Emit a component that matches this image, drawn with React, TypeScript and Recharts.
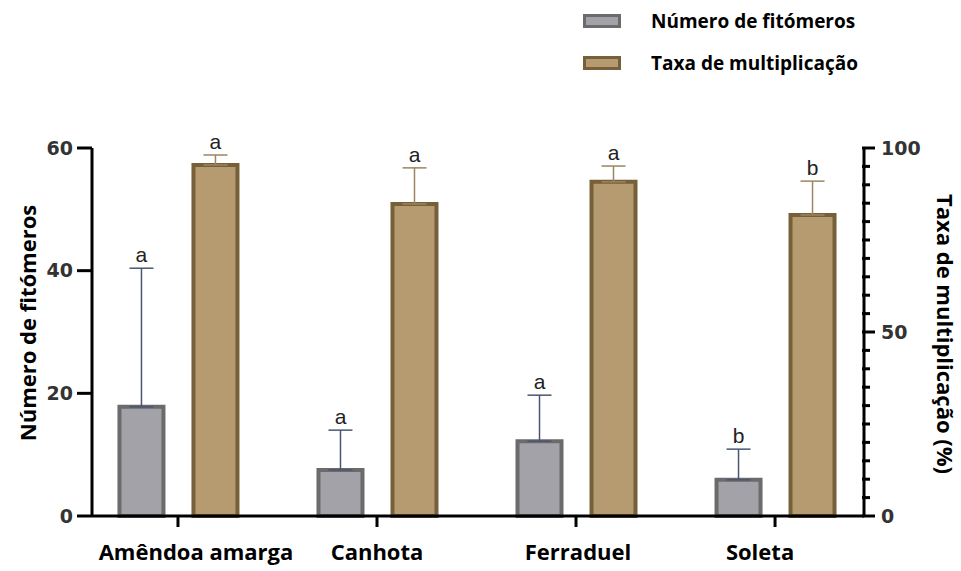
import {
    BarChart,
    Bar,
    XAxis,
    YAxis,
    Legend,
    ErrorBar,
    LabelList
} from "recharts";

const cultivars = ["Amêndoa amarga", "Canhota", "Ferraduel", "Soleta"];
const fitomeros = [17.8, 7.5, 12.2, 5.9];
const fitomerosErr = [22.6, 6.5, 7.5, 5.0];
const fitomerosLetters = ["a", "a", "a", "b"];
const taxa = [95.4, 84.8, 90.8, 81.8];
const taxaErr = [2.7, 9.8, 4.3, 9.2];
const taxaLetters = ["a", "a", "a", "b"];
const leftTicks = [0, 20, 40, 60];
const rightTicks = [0, 5, 10, 15, 20, 25, 30, 35, 40, 45, 50, 55, 60, 65, 70, 75, 80, 85, 90, 95, 100];

const data = cultivars.map((name, i) => ({
    idx: i,
    name,
    fitomeros: fitomeros[i],
    fitomerosErr: [0, fitomerosErr[i]],
    fitomerosLetter: fitomerosLetters[i],
    taxa: taxa[i],
    taxaErr: [0, taxaErr[i]],
    taxaLetter: taxaLetters[i]
}));

const titleFont = "'Open Sans', sans-serif";
const numFont = "'DejaVu Sans', sans-serif";

// small nudges so the category labels sit where the original put them
const labelShift = [18, 0, 2, -15];

const strokes: any = { fitomeros: "#6b6b6b", taxa: "#76603a" };

// letter above the error cap, using the bar's own pixel scale
const letter = (values: number[], errs: number[]) => (props: any) => {
    const { x, y, width, height, value, index } = props;
    const v = values[index];
    const perUnit = v ? height / v : 0;
    const capY = y - errs[index] * perUnit;
    return (
        <text
            x={x + width / 2}
            y={capY - 6}
            textAnchor="middle"
            fontFamily="'Liberation Sans', Arial, sans-serif"
            fontSize={21}
            fill="#222"
        >
            {value}
        </text>
    );
};

const xTick = ({ x, y, payload }: any) => (
    <text
        x={x + labelShift[payload.value]}
        y={y + 31}
        textAnchor="middle"
        fontFamily={titleFont}
        fontWeight="bold"
        fontSize={22}
        fill="#000"
    >
        {cultivars[payload.value]}
    </text>
);

// right axis: short marks every 5, longer + label at 0/50/100
const rightTick = ({ x, y, payload }: any) => {
    const major = payload.value % 50 === 0;
    return (
        <g>
            <path d={`M${x - 2},${y}h${major ? 13 : 8}`} stroke="#000" strokeWidth={3} fill="none" />
            {major && (
                <text
                    x={x + 17}
                    y={y}
                    dy={7}
                    textAnchor="start"
                    fontFamily={numFont}
                    fontWeight="bold"
                    fontSize={19}
                    fill="#333"
                    stroke="none"
                >
                    {payload.value}
                </text>
            )}
        </g>
    );
};

const renderLegend = ({ payload }: any) => (
    <div>
        {payload.map((entry: any) => (
            <div
                key={entry.value}
                style={{ display: "flex", alignItems: "center", height: 42 }}
            >
                <span
                    style={{
                        display: "inline-block",
                        width: 32,
                        height: 8,
                        background: entry.color,
                        border: `3px solid ${strokes[entry.dataKey]}`,
                        marginRight: 30
                    }}
                />
                <span
                    style={{
                        fontFamily: titleFont,
                        fontWeight: "bold",
                        fontSize: 19,
                        color: "#000"
                    }}
                >
                    {entry.value}
                </span>
            </div>
        ))}
    </div>
);

const App = () => {
    return (
        <div style={{ position: "absolute", left: 0, top: 0, background: "#fff" }}>
            <BarChart
                width={961}
                height={571}
                data={data}
                margin={{ top: 148, right: 0, bottom: 0, left: 0 }}
                barSize={44}
                barGap={30}
            >
                <XAxis
                    dataKey="idx"
                    type="number"
                    domain={[-0.432, 3.447]}
                    ticks={[0, 1, 2, 3]}
                    interval={0}
                    allowDataOverflow
                    height={55}
                    stroke="#000"
                    strokeWidth={3}
                    tickLine={{ stroke: "#000", strokeWidth: 3 }}
                    tickSize={11}
                    tick={xTick}
                />
                <YAxis
                    yAxisId="left"
                    orientation="left"
                    width={92}
                    domain={[0, 60]}
                    ticks={leftTicks}
                    interval={0}
                    stroke="#000"
                    strokeWidth={3}
                    tickLine={{ stroke: "#000", strokeWidth: 3 }}
                    tickSize={15}
                    tickMargin={4}
                    tick={{ fontFamily: numFont, fontWeight: "bold", fontSize: 19, fill: "#333", stroke: "none" }}
                    label={(p: any) => {
                        const vb = p.viewBox;
                        const cx = 30;
                        const cy = vb.y + vb.height / 2 - 9;
                        return (
                            <text
                                x={cx}
                                y={cy}
                                transform={`rotate(-90 ${cx} ${cy})`}
                                textAnchor="middle"
                                dominantBaseline="middle"
                                fontFamily={titleFont}
                                fontWeight="bold"
                                fontSize={22}
                                fill="#000"
                            >
                                Número de fitómeros
                            </text>
                        );
                    }}
                />
                <YAxis
                    yAxisId="right"
                    orientation="right"
                    width={97}
                    domain={[0, 100]}
                    ticks={rightTicks}
                    interval={0}
                    stroke="#000"
                    strokeWidth={3}
                    tickLine={false}
                    tickSize={0}
                    tickMargin={0}
                    tick={rightTick}
                    label={(p: any) => {
                        const vb = p.viewBox;
                        const cx = 943;
                        const cy = vb.y + vb.height / 2 + 2;
                        return (
                            <text
                                x={cx}
                                y={cy}
                                transform={`rotate(90 ${cx} ${cy})`}
                                textAnchor="middle"
                                dominantBaseline="middle"
                                fontFamily={titleFont}
                                fontWeight="bold"
                                fontSize={22}
                                fill="#000"
                            >
                                Taxa de multiplicação (%)
                            </text>
                        );
                    }}
                />
                <Legend
                    layout="vertical"
                    align="center"
                    verticalAlign="middle"
                    content={renderLegend}
                    wrapperStyle={{ top: 0, left: 583, width: 320, height: 84 }}
                />
                <Bar
                    yAxisId="left"
                    dataKey="fitomeros"
                    name="Número de fitómeros"
                    fill="#a2a2a8"
                    stroke={strokes.fitomeros}
                    strokeWidth={4}
                    isAnimationActive={false}
                >
                    <ErrorBar
                        dataKey="fitomerosErr"
                        width={12}
                        stroke="#4a5670"
                        strokeWidth={1.5}
                        isAnimationActive={false}
                    />
                    <LabelList
                        dataKey="fitomerosLetter"
                        content={letter(fitomeros, fitomerosErr)}
                    />
                </Bar>
                <Bar
                    yAxisId="right"
                    dataKey="taxa"
                    name="Taxa de multiplicação"
                    fill="#b59b6f"
                    stroke={strokes.taxa}
                    strokeWidth={4}
                    isAnimationActive={false}
                >
                    <ErrorBar
                        dataKey="taxaErr"
                        width={12}
                        stroke="#9c8462"
                        strokeWidth={1.5}
                        isAnimationActive={false}
                    />
                    <LabelList
                        dataKey="taxaLetter"
                        content={letter(taxa, taxaErr)}
                    />
                </Bar>
            </BarChart>
        </div>
    );
};

export default App;
